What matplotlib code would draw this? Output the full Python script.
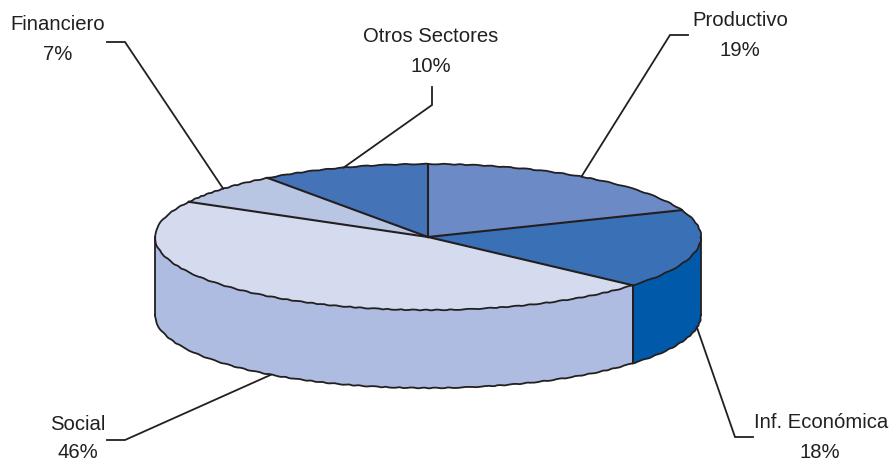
import numpy as np
import matplotlib
matplotlib.use("Agg")
import matplotlib.pyplot as plt
from matplotlib.patches import Polygon

plt.rcParams['font.family'] = ['Liberation Sans', 'DejaVu Sans']

categories = ["Productivo", "Inf. Económica", "Social", "Financiero", "Otros Sectores"]
shares = [19, 17.5, 46.5, 7, 10]
percent_labels = ["19%", "18%", "46%", "7%", "10%"]
top_colors = ["#6B8AC6", "#3A70B5", "#D5DBEF", "#B9C6E3", "#4473B8"]
wall_colors = ["#5A7BBD", "#0059A9", "#ADBCE0", "#A0B0D8", "#3A69AE"]

CX, CY, RX, RY, DEPTH = 428, 237, 273, 73, 78
# name x, name y, percent x, percent y, elbow x, elbow y, leader end x, leader end y
layout = {
    "Productivo": (740, 20, 740, 50, 670, 35, 688, 35),
    "Inf. Económica": (821, 422, 820, 452, 735, 437, 753, 437),
    "Social": (78, 424, 78, 452, 125, 440, 107, 440),
    "Financiero": (58, 24, 58, 55, 125, 42, 107, 42),
    "Otros Sectores": (431, 37, 431, 67, 432, 105, 432, 87),
}
INK = "#231F20"


def pt(theta, drop=0.0):
    t = np.radians(theta)
    return CX + RX * np.sin(t), CY - RY * np.cos(t) + drop


def arc(a, b, drop=0.0, n=120):
    th = np.linspace(a, b, n)
    return np.column_stack(pt(th, drop))


fig = plt.figure(figsize=(8.89, 4.62), dpi=100, facecolor="white")
ax = fig.add_axes([0, 0, 1, 1])
ax.set_xlim(0, 889)
ax.set_ylim(462, 0)
ax.axis("off")

edges = np.concatenate([[0], np.cumsum(shares)]) / sum(shares) * 360
SK = (0.35, 16, 3)

for i, c in enumerate(wall_colors):
    a, b = max(edges[i], 90), min(edges[i + 1], 270)
    if a >= b:
        continue
    poly = np.vstack([arc(a, b), arc(a, b, DEPTH)[::-1]])
    ax.add_patch(Polygon(poly, closed=True, fc=c, ec="none", zorder=2))
    x0, y0 = pt(a)
    ax.plot([x0, x0], [y0, y0 + DEPTH], color=INK, lw=1.3, zorder=3)
    x1, y1 = pt(b)
    ax.plot([x1, x1], [y1, y1 + DEPTH], color=INK, lw=1.3, zorder=3)
    low = arc(a, b, DEPTH)
    ln, = ax.plot(low[:, 0], low[:, 1], color=INK, lw=1.3, zorder=3)
    ln.set_sketch_params(*SK)

for i, c in enumerate(top_colors):
    a, b = edges[i], edges[i + 1]
    poly = np.vstack([[CX, CY], arc(a, b)])
    ax.add_patch(Polygon(poly, closed=True, fc=c, ec="none", zorder=4))
for i in range(len(shares)):
    x, y = pt(edges[i])
    ax.plot([CX, x], [CY, y], color=INK, lw=1.5, zorder=5)
    rim = arc(edges[i], edges[i + 1])
    ln, = ax.plot(rim[:, 0], rim[:, 1], color=INK, lw=1.3, zorder=5)
    ln.set_sketch_params(*SK)

for i, name in enumerate(categories):
    mid = (edges[i] + edges[i + 1]) / 2
    front = 90 <= mid <= 270
    ax_x, ax_y = pt(mid, DEPTH if front else 0)
    tx, ty, px, py, ex, ey, lx, ly = layout[name]
    ax.plot([ax_x, ex, lx], [ax_y, ey, ly], color=INK, lw=1.3,
            zorder=1 if front else 6, solid_joinstyle="miter")
    ax.text(tx, ty, name, ha="center", va="center", fontsize=14.6, color=INK)
    ax.text(px, py, percent_labels[i], ha="center", va="center", fontsize=14.6, color=INK)

fig.savefig("out.png", dpi=100, facecolor="white")
